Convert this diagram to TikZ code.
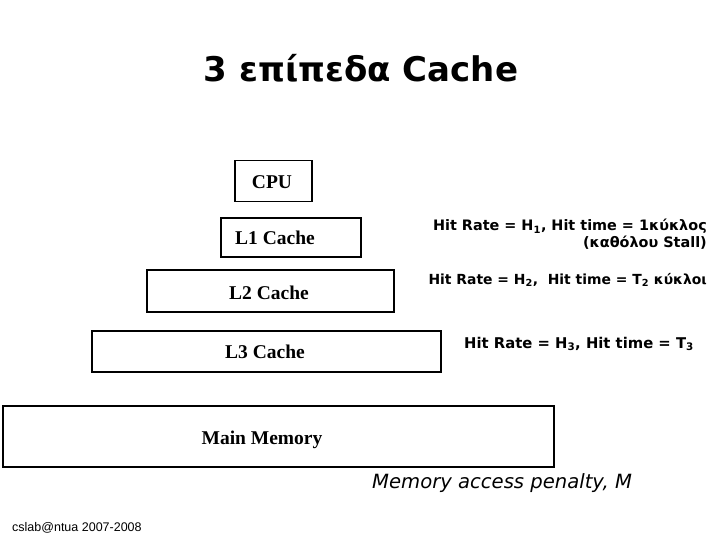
\documentclass[tikz,border=0pt]{standalone}
\usepackage{fontspec}
\setmainfont{Liberation Serif}
\newfontfamily\titlefont{DejaVu Sans}
\newfontfamily\hitfont{DejaVu Sans}
\newfontfamily\footfont{Liberation Sans}
\begin{document}
\begin{tikzpicture}[x=1pt,y=-1pt,
  level/.style={draw=black,line width=1.6pt,inner sep=0pt,outer sep=0pt},
  boxtext/.style={font=\fontsize{19.5}{22}\selectfont\bfseries,inner sep=0pt},
  hit/.style={font=\hitfont\fontsize{14.4}{17}\selectfont\bfseries,inner sep=0pt,align=right}]
\useasboundingbox (0,0) rectangle (720,540);
% title
\node[font=\titlefont\fontsize{34}{40}\selectfont\bfseries] (title) at (361,68) {3 επίπεδα Cache};
% boxes
\node[level,minimum width=77pt,minimum height=41pt] (cpu) at (273.5,181) {};
\node[level,minimum width=140pt,minimum height=39pt] (l1) at (291,237.5) {};
\node[level,minimum width=247pt,minimum height=42pt] (l2) at (270.5,291) {};
\node[level,minimum width=349pt,minimum height=41pt] (l3) at (266.5,351.5) {};
\node[level,minimum width=551pt,minimum height=61pt] (mem) at (278.5,436.5) {};
% box texts
\node[boxtext] (tcpu) at (272,182) {CPU};
\node[boxtext] (tl1) at (275,238) {L1 Cache};
\node[boxtext] (tl2) at (269,293) {L2 Cache};
\node[boxtext] (tl3) at (265,352) {L3 Cache};
\node[boxtext] (tmem) at (262,440) {Main Memory};
% hit texts
\node[hit,anchor=north east] (h1) at (707,219) {Hit Rate = H\textsubscript{1}, Hit time = 1κύκλος\\(καθόλου Stall)};
\node[hit,anchor=east,font=\hitfont\fontsize{13.9}{17}\selectfont\bfseries] (h2) at (707,280) {Hit Rate = H\textsubscript{2},\ \ Hit time = T\textsubscript{2} κύκλοι};
\node[hit,anchor=east,font=\hitfont\fontsize{14.8}{17}\selectfont\bfseries] (h3) at (694,344) {Hit Rate = H\textsubscript{3}, Hit time = T\textsubscript{3}};
\node[font=\hitfont\fontsize{19.6}{22}\selectfont\itshape,inner sep=0pt,anchor=west] (pen) at (372,483) {Memory access penalty, M};
\node[font=\footfont\fontsize{12.5}{14}\selectfont,inner sep=0pt,anchor=west] (foot) at (12,528) {cslab@ntua 2007-2008};
\end{tikzpicture}
\end{document}
